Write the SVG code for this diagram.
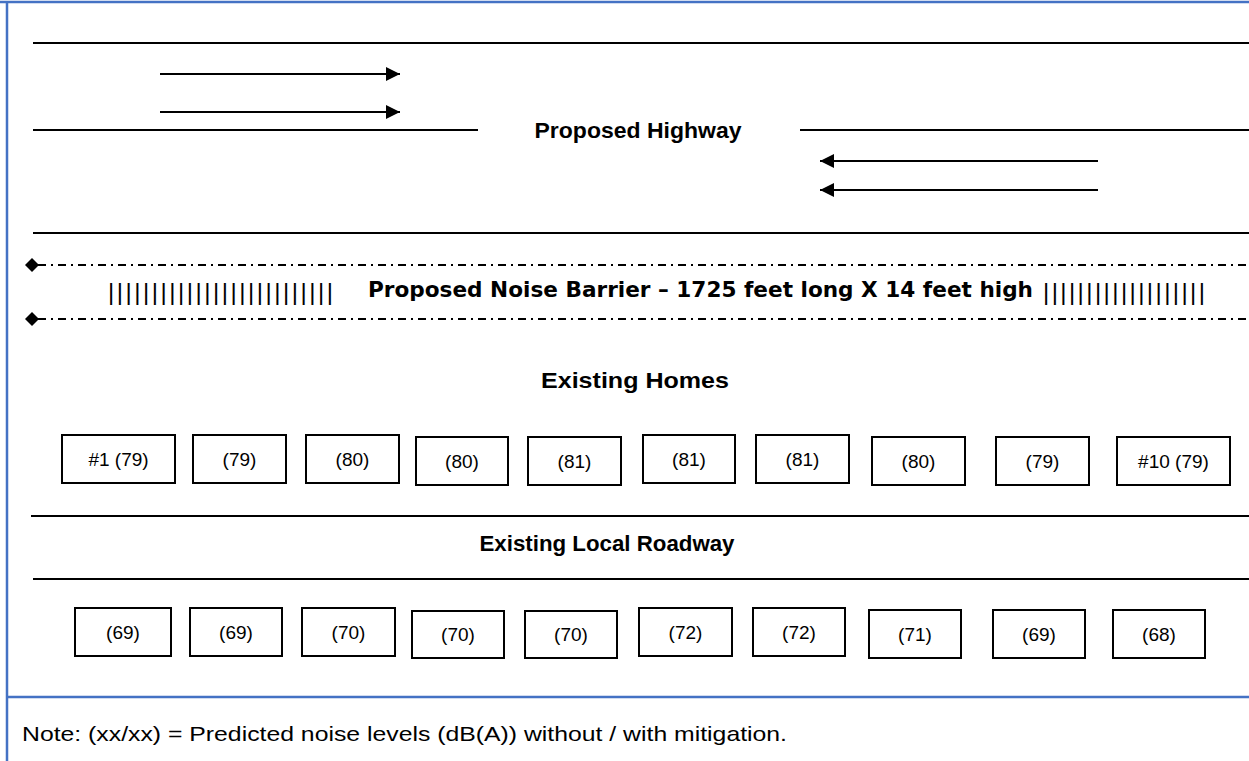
<svg xmlns="http://www.w3.org/2000/svg" width="1249" height="761" viewBox="0 0 1249 761">
<style>
.ln{stroke:#000;stroke-width:2;fill:none}
.dd{stroke:#000;stroke-width:2;fill:none;stroke-dasharray:8 5 2 5}
.bx{fill:#fff;stroke:#000;stroke-width:2}
.bt{font-family:"Liberation Sans",Arial,sans-serif;font-size:19px;text-anchor:middle;fill:#000}
.hd{font-family:"Liberation Sans",Arial,sans-serif;font-weight:bold;font-size:22px;text-anchor:middle;fill:#000}
.br{font-family:"DejaVu Sans",Verdana,sans-serif;font-weight:bold;font-size:22px;fill:#000}
.bars{font-family:"Liberation Sans",Arial,sans-serif;font-size:24px;fill:#000}
.note{font-family:"Liberation Sans",Arial,sans-serif;font-size:21px;fill:#000}
</style>
<defs>
<marker id="ah" markerWidth="14" markerHeight="14" refX="14" refY="7" orient="auto" markerUnits="userSpaceOnUse">
<path d="M0,0 L14,7 L0,14 Z" fill="#000"/>
</marker>
</defs>
<rect width="1249" height="761" fill="#fff"/>
<g id="frame" stroke="#4472C4" stroke-width="2.5" fill="none">
<line x1="0" y1="2" x2="1249" y2="2"/>
<line x1="7" y1="2" x2="7" y2="761"/>
<line x1="7" y1="697" x2="1249" y2="697"/>
</g>
<g id="roads">
<line class="ln" x1="33" y1="43" x2="1249" y2="43"/>
<line class="ln" x1="33" y1="130" x2="478" y2="130"/>
<line class="ln" x1="800" y1="130" x2="1249" y2="130"/>
<line class="ln" x1="33" y1="233" x2="1249" y2="233"/>
<line class="dd" x1="38" y1="265" x2="1249" y2="265"/>
<line class="dd" x1="38" y1="319" x2="1249" y2="319"/>
<path d="M25,265 L32,258 L39,265 L32,272 Z" fill="#000"/>
<path d="M25,319 L32,312 L39,319 L32,326 Z" fill="#000"/>
<line class="ln" x1="31" y1="516" x2="1249" y2="516"/>
<line class="ln" x1="33" y1="579" x2="1249" y2="579"/>
</g>
<g id="connectors">
<line class="ln" x1="160" y1="74" x2="400" y2="74" marker-end="url(#ah)"/>
<line class="ln" x1="160" y1="112" x2="400" y2="112" marker-end="url(#ah)"/>
<line class="ln" x1="1098" y1="161" x2="820" y2="161" marker-end="url(#ah)"/>
<line class="ln" x1="1098" y1="190" x2="820" y2="190" marker-end="url(#ah)"/>
</g>
<g id="labels">
<text class="hd" x="638" y="138" textLength="207" lengthAdjust="spacingAndGlyphs">Proposed Highway</text>
<text class="bars" x="108" y="300" textLength="225" lengthAdjust="spacing">||||||||||||||||||||||||||</text>
<text class="br" x="368" y="297" textLength="665" lengthAdjust="spacingAndGlyphs">Proposed Noise Barrier – 1725 feet long X 14 feet high</text>
<text class="bars" x="1043" y="300" textLength="162" lengthAdjust="spacing">|||||||||||||||||||</text>
<text class="hd" x="635" y="388" font-size="23" textLength="188" lengthAdjust="spacingAndGlyphs">Existing Homes</text>
<text class="hd" x="607" y="551" textLength="255" lengthAdjust="spacingAndGlyphs">Existing Local Roadway</text>
<text class="note" x="22" y="741" textLength="765" lengthAdjust="spacingAndGlyphs">Note: (xx/xx) = Predicted noise levels (dB(A)) without / with mitigation.</text>
</g>
<g id="home1"><rect class="bx" x="62" y="435" width="113" height="48"/><text class="bt" x="118.5" y="466">#1 (79)</text></g>
<g id="home2"><rect class="bx" x="193" y="435" width="93" height="48"/><text class="bt" x="239.5" y="466">(79)</text></g>
<g id="home3"><rect class="bx" x="306" y="435" width="93" height="48"/><text class="bt" x="352.5" y="466">(80)</text></g>
<g id="home4"><rect class="bx" x="416" y="437" width="92" height="48"/><text class="bt" x="462" y="468">(80)</text></g>
<g id="home5"><rect class="bx" x="528" y="437" width="93" height="48"/><text class="bt" x="574.5" y="468">(81)</text></g>
<g id="home6"><rect class="bx" x="643" y="435" width="92" height="48"/><text class="bt" x="689" y="466">(81)</text></g>
<g id="home7"><rect class="bx" x="756" y="435" width="93" height="48"/><text class="bt" x="802.5" y="466">(81)</text></g>
<g id="home8"><rect class="bx" x="872" y="437" width="93" height="48"/><text class="bt" x="918.5" y="468">(80)</text></g>
<g id="home9"><rect class="bx" x="996" y="437" width="93" height="48"/><text class="bt" x="1042.5" y="468">(79)</text></g>
<g id="home10"><rect class="bx" x="1117" y="437" width="113" height="48"/><text class="bt" x="1173.5" y="468">#10 (79)</text></g>
<g id="local1"><rect class="bx" x="75" y="608" width="96" height="48"/><text class="bt" x="123" y="639">(69)</text></g>
<g id="local2"><rect class="bx" x="190" y="608" width="92" height="48"/><text class="bt" x="236" y="639">(69)</text></g>
<g id="local3"><rect class="bx" x="302" y="608" width="93" height="48"/><text class="bt" x="348.5" y="639">(70)</text></g>
<g id="local4"><rect class="bx" x="412" y="611" width="92" height="47"/><text class="bt" x="458" y="641">(70)</text></g>
<g id="local5"><rect class="bx" x="525" y="611" width="92" height="47"/><text class="bt" x="571" y="641">(70)</text></g>
<g id="local6"><rect class="bx" x="639" y="608" width="93" height="48"/><text class="bt" x="685.5" y="639">(72)</text></g>
<g id="local7"><rect class="bx" x="753" y="608" width="92" height="48"/><text class="bt" x="799" y="639">(72)</text></g>
<g id="local8"><rect class="bx" x="869" y="610" width="92" height="48"/><text class="bt" x="915" y="641">(71)</text></g>
<g id="local9"><rect class="bx" x="993" y="610" width="92" height="48"/><text class="bt" x="1039" y="641">(69)</text></g>
<g id="local10"><rect class="bx" x="1113" y="610" width="92" height="48"/><text class="bt" x="1159" y="641">(68)</text></g>
</svg>
